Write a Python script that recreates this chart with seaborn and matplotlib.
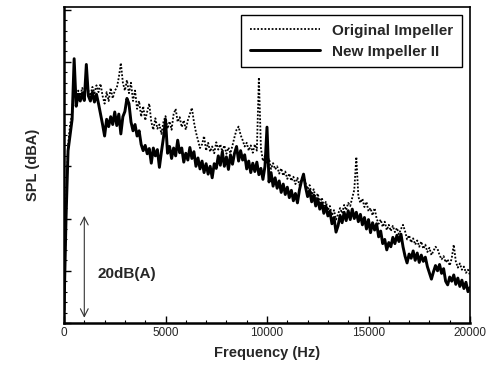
import numpy as np
import pandas as pd
import matplotlib
matplotlib.use("Agg")
import matplotlib.pyplot as plt
import seaborn as sns

# Frequency bins (Hz), 100 Hz spacing
freq = np.arange(0, 20001, 100)

# SPL (dBA, arbitrary reference) - New Impeller II (solid)
new_impeller = [
    2.5, 20.0, 33.0, 36.0, 39.0, 50.6, 41.5, 43.8, 42.5, 44.0,
    42.6, 49.5, 43.5, 42.5, 44.2, 42.3, 43.8, 42.0, 40.0, 38.0,
    35.8, 39.0, 37.6, 39.5, 38.0, 40.4, 37.8, 40.0, 36.2, 39.5,
    40.5, 43.0, 42.0, 38.5, 36.8, 38.0, 35.8, 36.8, 34.2, 33.0,
    34.0, 32.4, 33.4, 30.6, 33.5, 32.0, 33.2, 29.8, 32.8, 35.5,
    39.0, 32.5, 33.8, 31.5, 33.5, 32.0, 35.0, 32.6, 33.5, 30.8,
    32.5, 31.2, 33.6, 31.5, 32.8, 30.0, 31.6, 29.5, 31.0, 28.8,
    30.5, 28.5, 30.0, 27.8, 30.5, 29.6, 32.0, 30.2, 32.8, 30.0,
    31.8, 29.4, 32.2, 30.4, 32.5, 33.8, 31.0, 33.0, 31.2, 32.2,
    29.5, 31.0, 28.8, 30.6, 29.0, 30.8, 28.4, 29.6, 27.5, 30.0,
    37.5, 27.0, 28.8, 26.2, 27.8, 25.8, 27.2, 25.0, 26.6, 24.6,
    26.0, 24.0, 25.4, 23.4, 24.8, 23.0, 25.5, 27.2, 28.5, 26.0,
    24.2, 25.4, 23.2, 24.5, 22.4, 23.8, 21.8, 23.0, 21.0, 22.4,
    20.5, 21.4, 19.0, 20.2, 17.4, 18.6, 20.6, 19.2, 21.2, 19.6,
    21.5, 19.8, 21.8, 20.0, 21.2, 19.4, 20.8, 18.8, 20.2, 18.0,
    19.8, 17.3, 19.2, 17.8, 19.0, 16.5, 17.6, 15.2, 16.0, 14.0,
    15.4, 14.6, 16.4, 15.2, 16.8, 15.6, 17.0, 14.6, 12.8, 11.5,
    13.2, 12.4, 13.8, 12.0, 13.4, 11.6, 13.0, 11.8, 12.6, 10.8,
    9.6, 8.4, 9.8, 11.0, 10.0, 11.2, 9.5, 10.4, 8.0, 7.3,
    8.8, 8.0, 9.2, 7.4, 8.6, 7.0, 8.2, 6.6, 7.8, 6.0,
    6.8,
]

# SPL (dBA, arbitrary reference) - Original Impeller (dotted)
original_impeller = [
    3.0, 22.0, 34.0, 38.0, 40.0, 47.0, 42.5, 44.5, 43.5, 45.0,
    43.5, 46.0, 44.5, 43.5, 45.2, 44.0, 45.5, 44.2, 45.8, 43.5,
    42.0, 44.2, 42.5, 45.0, 43.0, 44.5, 45.0, 47.0, 49.8, 46.0,
    44.5, 46.5, 44.0, 46.0, 42.5, 44.5, 41.0, 42.5, 39.5, 41.5,
    38.8, 40.5, 42.0, 38.5, 37.0, 39.2, 37.2, 38.0, 36.2, 38.5,
    39.6, 37.2, 38.6, 37.0, 40.0, 41.0, 38.5, 39.4, 37.5, 38.8,
    37.0, 38.8, 40.0, 41.2, 38.5, 36.5, 35.0, 33.5, 34.2, 35.8,
    33.0, 34.5, 32.8, 33.8, 32.5, 34.6, 33.2, 34.2, 32.8, 34.0,
    32.4, 33.6, 32.5, 34.0, 35.6, 37.0, 37.6, 36.0, 35.0, 33.8,
    34.5, 33.0, 34.0, 32.6, 34.2, 33.0, 47.0, 33.5, 31.0, 32.0,
    30.4, 31.5, 29.5, 30.6, 29.4, 30.0, 28.6, 29.6, 28.2, 29.0,
    27.6, 28.6, 27.2, 28.0, 26.6, 27.8, 26.4, 27.6, 28.2, 26.8,
    25.6, 26.4, 24.6, 25.6, 23.8, 24.8, 23.0, 24.0, 22.4, 23.2,
    21.6, 22.4, 20.6, 21.6, 19.8, 20.8, 22.0, 21.0, 22.6, 21.6,
    23.0, 22.4, 24.0, 25.5, 31.8, 24.2, 23.0, 23.8, 22.2, 23.2,
    21.4, 22.0, 20.6, 22.0, 20.0, 19.0, 19.8, 18.4, 19.4, 17.8,
    18.8, 17.6, 18.6, 17.4, 18.2, 17.0, 18.0, 18.8, 17.6, 16.0,
    16.8, 15.4, 16.2, 15.0, 15.8, 14.6, 15.6, 14.2, 15.0, 13.6,
    14.4, 13.0, 13.8, 14.6, 14.2, 13.0, 12.2, 12.8, 11.6, 12.2,
    11.0, 12.4, 15.0, 11.8, 10.6, 11.4, 10.2, 10.8, 9.6, 10.2,
    9.2,
]

series_labels = ["Original Impeller", "New Impeller II"]
x_ticks = [0, 5000, 10000, 15000, 20000]
x_tick_labels = ["0", "5000", "10000", "15000", "20000"]
scale_text = "20dB(A)"
scale_span = (1.0, 20.5)
scale_freq = 1000

df_orig = pd.DataFrame({"freq": freq, "spl": original_impeller})
df_new = pd.DataFrame({"freq": freq, "spl": new_impeller})

sns.set_theme(style="ticks")
plt.rcParams["font.family"] = ["Liberation Sans", "DejaVu Sans"]

fig = plt.figure(figsize=(4.91, 3.66), dpi=100)
ax = fig.add_axes([64 / 491, 1 - 323 / 366, (470 - 64) / 491, (323 - 7) / 366])

sns.lineplot(data=df_orig, x="freq", y="spl", ax=ax, color="black",
             linewidth=1.3, linestyle=(0, (1, 1.0)), estimator=None,
             label=series_labels[0])
sns.lineplot(data=df_new, x="freq", y="spl", ax=ax, color="black",
             linewidth=2.1, estimator=None, label=series_labels[1])

ax.set_xlim(0, 20000)
ax.set_ylim(0, 60.5)
ax.set_xticks(x_ticks)
ax.set_xticklabels(x_tick_labels, fontsize=8.5)
ax.set_xticks(np.arange(0, 20001, 1000), minor=True)
ax.set_yticks(np.arange(0, 61, 10))
ax.set_yticks(np.arange(0, 61, 2), minor=True)
ax.set_yticklabels([])
ax.tick_params(axis="both", which="major", direction="in", length=5, width=1.0, color="black")
ax.tick_params(axis="both", which="minor", direction="in", length=2.5, width=0.8, color="black")
ax.tick_params(axis="x", pad=3)

for side, lw in [("left", 1.8), ("bottom", 1.8), ("top", 1.2), ("right", 1.2)]:
    ax.spines[side].set_linewidth(lw)
    ax.spines[side].set_color("black")

ax.set_xlabel("Frequency (Hz)", fontsize=10.5, fontweight="bold", labelpad=5)
ax.set_ylabel("SPL (dBA)", fontsize=10.5, fontweight="bold", labelpad=14)

ax.annotate("", xy=(scale_freq, scale_span[0]), xytext=(scale_freq, scale_span[1]),
            arrowprops=dict(arrowstyle="<->", color="#333333", lw=0.8,
                            shrinkA=0, shrinkB=0, mutation_scale=14))
ax.text(1650, 9.4, scale_text, fontsize=11, fontweight="bold", va="center", ha="left")

leg = ax.legend(loc="upper right", frameon=True, fancybox=False, edgecolor="black",
                handlelength=4.6, borderaxespad=0.55, labelspacing=0.45,
                borderpad=0.55, prop={"weight": "bold", "size": 11})
leg.get_frame().set_linewidth(1.0)
leg.get_frame().set_facecolor("white")
leg.get_frame().set_alpha(1)

fig.savefig("out.png", dpi=100)
